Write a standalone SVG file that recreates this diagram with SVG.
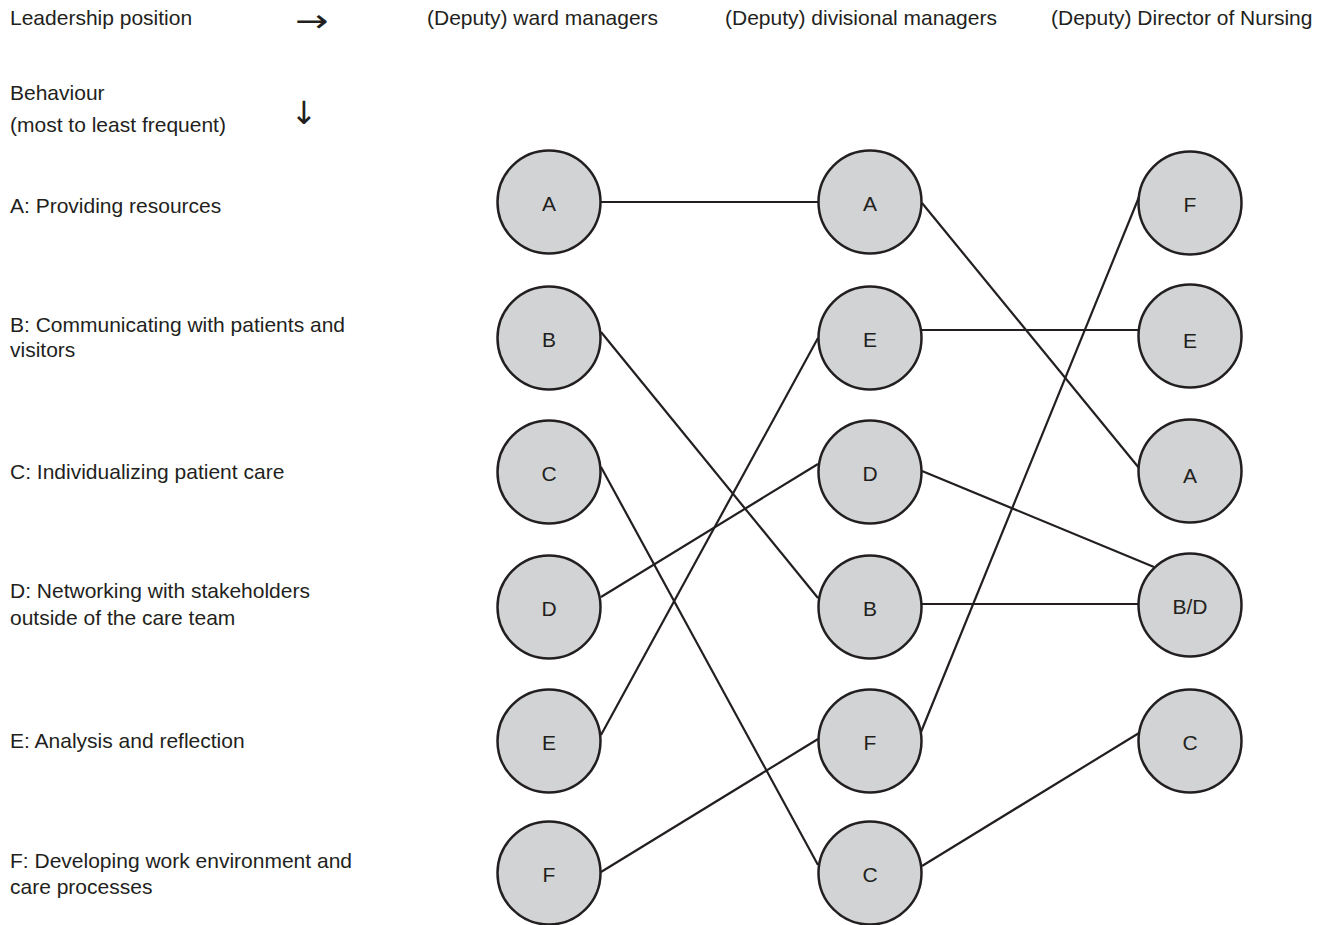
<svg xmlns="http://www.w3.org/2000/svg" width="1328" height="925" viewBox="0 0 1328 925">
<style>
.t{font-family:"Liberation Sans",Arial,sans-serif;font-size:21px;fill:#231f20}
.ar{font-family:"DejaVu Sans",sans-serif;font-size:32px;fill:#231f20}
.n circle{fill:#d1d3d4;stroke:#231f20;stroke-width:2.5}
.n text{font-family:"Liberation Sans",Arial,sans-serif;font-size:21px;fill:#231f20;text-anchor:middle}
#edges line{stroke:#231f20;stroke-width:2.2}
</style>
<rect width="1328" height="925" fill="#fff"/>
<g id="labels">
<text class="t" x="10" y="25">Leadership position</text>
<text class="ar" transform="translate(295,32) scale(1.25,1)">→</text>
<text class="t" x="427" y="25">(Deputy) ward managers</text>
<text class="t" x="725" y="25">(Deputy) divisional managers</text>
<text class="t" x="1051" y="25">(Deputy) Director of Nursing</text>
<text class="t" x="10" y="100">Behaviour</text>
<text class="t" x="10" y="132">(most to least frequent)</text>
<text class="ar" x="304" y="124" text-anchor="middle">↓</text>
<text class="t" x="10" y="213">A: Providing resources</text>
<text class="t" x="10" y="332">B: Communicating with patients and</text>
<text class="t" x="10" y="357">visitors</text>
<text class="t" x="10" y="479">C: Individualizing patient care</text>
<text class="t" x="10" y="598">D: Networking with stakeholders</text>
<text class="t" x="10" y="625">outside of the care team</text>
<text class="t" x="10" y="748">E: Analysis and reflection</text>
<text class="t" x="10" y="868">F: Developing work environment and</text>
<text class="t" x="10" y="894">care processes</text>
</g>
<g id="edges">
<line x1="601" y1="202" x2="818" y2="202"/>
<line x1="601" y1="332" x2="818" y2="598"/>
<line x1="601" y1="467" x2="818" y2="865"/>
<line x1="601" y1="597" x2="818" y2="464"/>
<line x1="601" y1="735" x2="818" y2="338"/>
<line x1="601" y1="872" x2="818" y2="739"/>
<line x1="922" y1="203" x2="1139" y2="468"/>
<line x1="922" y1="330" x2="1139" y2="330"/>
<line x1="922" y1="471" x2="1154" y2="567"/>
<line x1="922" y1="604" x2="1140" y2="604"/>
<line x1="921" y1="732" x2="1139" y2="197"/>
<line x1="922" y1="866" x2="1139" y2="733"/>
</g>
<g id="wA" class="n"><circle cx="549" cy="202" r="51.5"/><text x="549" y="211">A</text></g>
<g id="wB" class="n"><circle cx="549" cy="338" r="51.5"/><text x="549" y="347">B</text></g>
<g id="wC" class="n"><circle cx="549" cy="472" r="51.5"/><text x="549" y="481">C</text></g>
<g id="wD" class="n"><circle cx="549" cy="607" r="51.5"/><text x="549" y="616">D</text></g>
<g id="wE" class="n"><circle cx="549" cy="741" r="51.5"/><text x="549" y="750">E</text></g>
<g id="wF" class="n"><circle cx="549" cy="873" r="51.5"/><text x="549" y="882">F</text></g>
<g id="dA" class="n"><circle cx="870" cy="202" r="51.5"/><text x="870" y="211">A</text></g>
<g id="dE" class="n"><circle cx="870" cy="338" r="51.5"/><text x="870" y="347">E</text></g>
<g id="dD" class="n"><circle cx="870" cy="472" r="51.5"/><text x="870" y="481">D</text></g>
<g id="dB" class="n"><circle cx="870" cy="607" r="51.5"/><text x="870" y="616">B</text></g>
<g id="dF" class="n"><circle cx="870" cy="741" r="51.5"/><text x="870" y="750">F</text></g>
<g id="dC" class="n"><circle cx="870" cy="873" r="51.5"/><text x="870" y="882">C</text></g>
<g id="nF" class="n"><circle cx="1190" cy="203" r="51.5"/><text x="1190" y="212">F</text></g>
<g id="nE" class="n"><circle cx="1190" cy="336" r="51.5"/><text x="1190" y="348">E</text></g>
<g id="nA" class="n"><circle cx="1190" cy="471" r="51.5"/><text x="1190" y="483">A</text></g>
<g id="nBD" class="n"><circle cx="1190" cy="605" r="51.5"/><text x="1190" y="614">B/D</text></g>
<g id="nC" class="n"><circle cx="1190" cy="741" r="51.5"/><text x="1190" y="750">C</text></g>
</svg>
